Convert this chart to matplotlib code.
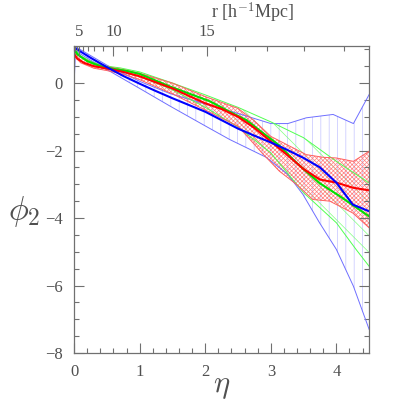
import numpy as np
import matplotlib
matplotlib.use('Agg')
import matplotlib.pyplot as plt

# blue : mean and band
eta_b = [0, 0.25, 0.5, 0.75, 1.0, 1.25, 1.5, 1.75, 2.0, 2.25, 2.5, 2.75, 3.0, 3.25, 3.5, 3.75, 4.0, 4.25, 4.5]
blue_mean = [1.05, 0.75, 0.47, 0.21, -0.02, -0.24, -0.45, -0.65, -0.85, -1.1, -1.35, -1.56, -1.76, -1.98, -2.22, -2.5, -2.95, -3.6, -3.8]
eta_bu = [0, 0.5, 1.0, 1.46, 2.0, 2.5, 3.0, 3.26, 3.54, 3.95, 4.26, 4.5]
blue_up = [1.1, 0.53, 0.05, -0.31, -0.62, -0.9, -1.2, -1.2, -1.03, -0.93, -1.2, -0.34]
eta_bl = [0, 0.02, 0.25, 0.5, 0.75, 1.0, 1.46, 2.0, 2.37, 2.93, 3.26, 3.49, 3.74, 4.0, 4.26, 4.5]
blue_low = [0.0, 0.95, 0.68, 0.4, 0.12, -0.16, -0.68, -1.27, -1.67, -2.2, -2.71, -3.3, -4.13, -4.93, -6.02, -7.3]

# red
eta_r = [0, 0.05, 0.15, 0.3, 0.5, 0.75, 1.0, 1.25, 1.5, 1.75, 2.0, 2.25, 2.5, 2.75, 3.0, 3.25, 3.5, 3.75, 4.0, 4.25, 4.5]
red_mean = [0.85, 0.72, 0.6, 0.5, 0.43, 0.33, 0.2, 0.02, -0.16, -0.38, -0.6, -0.77, -1.0, -1.33, -1.73, -2.13, -2.55, -2.86, -2.95, -3.1, -3.18]
eta_ru = [0, 0.1, 0.3, 0.5, 0.75, 1.0, 1.5, 2.0, 2.5, 2.75, 3.0, 3.29, 3.54, 3.8, 4.0, 4.26, 4.5]
red_up = [0.9, 0.78, 0.57, 0.49, 0.4, 0.29, 0.0, -0.4, -0.75, -1.12, -1.58, -1.87, -2.12, -2.2, -2.22, -2.32, -2.02]
eta_rl = [0, 0.1, 0.3, 0.5, 0.75, 1.0, 1.5, 2.0, 2.5, 2.88, 3.13, 3.39, 3.64, 3.9, 4.25, 4.5]
red_low = [0.8, 0.6, 0.44, 0.37, 0.26, 0.1, -0.32, -0.8, -1.28, -2.1, -2.61, -3.0, -3.45, -3.5, -3.85, -4.29]

# green
eta_g = [0, 0.05, 0.2, 0.4, 0.6, 0.8, 1.0, 1.46, 2.07, 2.37, 2.63, 2.88, 3.13, 3.39, 3.74, 4.05, 4.5]
green_mean = [1.0, 0.85, 0.65, 0.5, 0.42, 0.36, 0.27, -0.1, -0.54, -0.85, -1.1, -1.48, -1.85, -2.36, -2.96, -3.35, -3.95]
eta_gu = [0, 0.1, 0.3, 0.5, 0.7, 1.0, 1.5, 2.0, 2.5, 3.0, 3.5, 4.0, 4.5]
green_up = [1.02, 0.8, 0.6, 0.5, 0.45, 0.33, 0.0, -0.35, -0.72, -1.15, -1.62, -2.32, -2.96]
eta_gl = [0, 0.1, 0.3, 0.5, 0.7, 1.0, 1.5, 2.0, 2.5, 3.0, 3.5, 4.0, 4.3, 4.5]
green_low = [0.98, 0.76, 0.55, 0.45, 0.38, 0.2, -0.2, -0.72, -1.3, -2.07, -3.25, -4.14, -4.93, -5.43]

# top axis r [h^-1 Mpc], eta = 0.0006 r^3
r_major = [5, 10, 15]
r_minor = list(range(1, 20))

plt.rcParams['font.family'] = ['Liberation Serif', 'DejaVu Serif']
plt.rcParams['mathtext.fontset'] = 'cm'
plt.rcParams['hatch.linewidth'] = 0.5

axcol = '#707070'
txtcol = '#505050'

fig = plt.figure(figsize=(4.03, 4.03), dpi=100)
ax = fig.add_axes([0.184, 0.124, 0.732, 0.762])


def band(ex_up, up, ex_low, low, col, hatch):
    xs = np.concatenate([ex_up, ex_low[::-1]])
    ys = np.concatenate([up, low[::-1]])
    ax.fill(xs, ys, facecolor='none', edgecolor=col, hatch=hatch, linewidth=0)


band(eta_bu, blue_up, eta_bl, blue_low, '#c4c4ff', '||')
band(eta_gu, green_up, eta_gl, green_low, '#80ff80', '\\\\')
band(eta_ru, red_up, eta_rl, red_low, '#ff8080', 'xxxxxxxx')

ax.plot(eta_bu, blue_up, color='#6f6fff', lw=0.7)
ax.plot(eta_bl, blue_low, color='#6f6fff', lw=0.7)
ax.plot(eta_gu, green_up, color='#50ff50', lw=0.7)
ax.plot(eta_gl, green_low, color='#50ff50', lw=0.7)
ax.plot(eta_ru, red_up, color='#ff6060', lw=0.7)
ax.plot(eta_rl, red_low, color='#ff6060', lw=0.7)

ax.plot(eta_g, green_mean, color='#00e000', lw=1.5)
ax.plot(eta_r, red_mean, color='#ff0000', lw=1.5)
ax.plot(eta_b, blue_mean, color='#0000ff', lw=1.5)

ax.set_xlim(0, 4.5)
ax.set_ylim(-8, 1.1)
ax.set_xticks([0, 1, 2, 3, 4])
ax.set_xticks(np.arange(0, 4.51, 0.2), minor=True)
ax.set_yticks([-8, -6, -4, -2, 0])
ax.set_yticks(np.arange(-8, 1.01, 0.5), minor=True)
ax.tick_params(which='both', direction='in', top=False, right=True, colors=axcol,
               labelcolor=txtcol, labelsize=12, pad=8)
ax.tick_params(which='major', length=7.5, width=0.8)
ax.tick_params(which='minor', length=3.8, width=0.8)
for s in ax.spines.values():
    s.set_color(axcol)
    s.set_linewidth(0.9)

ax.set_xlabel(r'$\eta$', fontsize=22, color=txtcol, labelpad=-6)
ax.set_ylabel(r'$\phi_2$', fontsize=24, color=txtcol, rotation=0,
              ha='center', va='center')
ax.yaxis.set_label_coords(-0.17, 0.46)

ax2 = ax.twiny()
ax2.set_xlim(0, 4.5)
ax2.set_xticks([0.0006 * r ** 3 for r in r_major])
ax2.set_xticklabels([str(r) for r in r_major])
ax2.set_xticks([0.0006 * r ** 3 for r in r_minor], minor=True)
ax2.tick_params(which='both', direction='in', colors=axcol, labelcolor=txtcol,
                labelsize=12, pad=4)
ax2.tick_params(which='major', length=7.5, width=0.8)
ax2.tick_params(which='minor', length=3.8, width=0.8)
for s in ax2.spines.values():
    s.set_visible(False)

fig.text(253 / 403, 1 - 13 / 403, r'r [h$^{-1}$Mpc]', fontsize=13, color=txtcol,
         ha='center', va='center')

plt.savefig('out.png', dpi=100)
